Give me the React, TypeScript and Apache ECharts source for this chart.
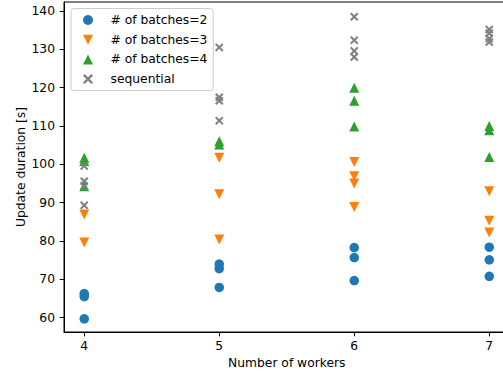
import React, { useEffect, useRef } from "react";
import * as echarts from "echarts";

const workers = [4, 5, 6, 7];
const batches2 = [
  [66.3, 65.5, 59.7],
  [74.0, 72.8, 67.9],
  [78.3, 75.7, 69.7],
  [78.4, 75.1, 70.8],
];
const batches3 = [
  [86.9, 79.6],
  [101.7, 92.2, 80.4],
  [100.6, 96.9, 95.0, 88.9],
  [93.0, 85.3, 82.2],
];
const batches4 = [
  [101.7, 100.9, 94.3],
  [106.0, 105.2],
  [120.0, 116.6, 109.9],
  [110.0, 108.9, 101.9],
];
const sequential = [
  [99.6, 95.6, 94.4, 89.3],
  [130.5, 117.5, 116.6, 111.4],
  [138.5, 132.4, 129.6, 128.0],
  [135.2, 134.2, 132.8, 131.9],
];
const seriesNames = ["# of batches=2", "# of batches=3", "# of batches=4", "sequential"];
const colors = ["#1f77b4", "#ff7f0e", "#2ca02c", "#7f7f7f"];
const xTicks = [4, 5, 6, 7];
const yTicks = [60, 70, 80, 90, 100, 110, 120, 130, 140];

const FONT = "DejaVu Sans";
const FS = 12.3;

const d = 1.7;
const xPath =
  "path://" +
  `M0,${d}L${d},0L5,${5 - d}L${10 - d},0L10,${d}L${5 + d},5L10,${10 - d}L${10 - d},10L5,${5 + d}L${d},10L0,${10 - d}L${5 - d},5Z`;
const symbols = ["circle", "path://M0,0L10,0L5,10Z", "path://M5,0L10,10L0,10Z", xPath];
const sizes = [9.5, 10, 10, 8.5];

function toPoints(groups: number[][]) {
  const pts: number[][] = [];
  groups.forEach((vals, i) => vals.forEach((v) => pts.push([workers[i], v])));
  return pts;
}

export default function App() {
  const ref = useRef<HTMLDivElement>(null);
  useEffect(() => {
    if (!ref.current) return;
    const chart = echarts.init(ref.current, undefined, { renderer: "svg" });
    const allData = [batches2, batches3, batches4, sequential];
    const labelStyle = { fontFamily: FONT, fontSize: FS, color: "#000" };
    chart.setOption({
      animation: false,
      textStyle: { fontFamily: FONT },
      grid: {
        left: 64,
        top: 2,
        width: 445.5,
        height: 330,
        outerBoundsMode: "none",
        containLabel: false,
        show: true,
        borderColor: "#000",
        borderWidth: 1,
        backgroundColor: "transparent",
      },
      legend: {
        orient: "vertical",
        left: 71,
        top: 8.5,
        itemWidth: 35,
        itemHeight: 10,
        itemGap: 7.7,
        padding: [5.5, 6, 5.5, 12],
        backgroundColor: "rgba(255,255,255,0.8)",
        borderColor: "#cccccc",
        borderWidth: 1,
        borderRadius: 3,
        textStyle: { ...labelStyle, lineHeight: 10 },
        data: seriesNames,
      },
      xAxis: {
        type: "value",
        min: 3.85,
        max: 7.15,
        name: "Number of workers",
        nameLocation: "middle",
        nameGap: 25,
        nameMoveOverlap: false,
        nameTextStyle: labelStyle,
        axisLine: { onZero: false, lineStyle: { color: "#000", width: 1 } },
        axisTick: { show: true, length: 4.3, customValues: xTicks, lineStyle: { color: "#000", width: 1 } },
        axisLabel: { customValues: xTicks, margin: 8, ...labelStyle },
        splitLine: { show: false },
      },
      yAxis: {
        type: "value",
        min: 56.27,
        max: 142.35,
        name: "Update duration [s]",
        nameLocation: "middle",
        nameGap: 37,
        nameMoveOverlap: false,
        nameTextStyle: labelStyle,
        axisLine: { show: true, onZero: false, lineStyle: { color: "#000", width: 1 } },
        axisTick: { show: true, length: 4.3, customValues: yTicks, lineStyle: { color: "#000", width: 1 } },
        axisLabel: { customValues: yTicks, margin: 9, ...labelStyle },
        splitLine: { show: false },
      },
      series: allData.map((g, i) => ({
        type: "scatter",
        name: seriesNames[i],
        symbol: symbols[i],
        symbolSize: sizes[i],
        itemStyle: { color: colors[i], opacity: 1 },
        data: toPoints(g),
      })),
    });
    return () => chart.dispose();
  }, []);
  return (
    <div
      ref={ref}
      style={{ position: "absolute", left: 0, top: 0, width: 503, height: 377 }}
    />
  );
}
